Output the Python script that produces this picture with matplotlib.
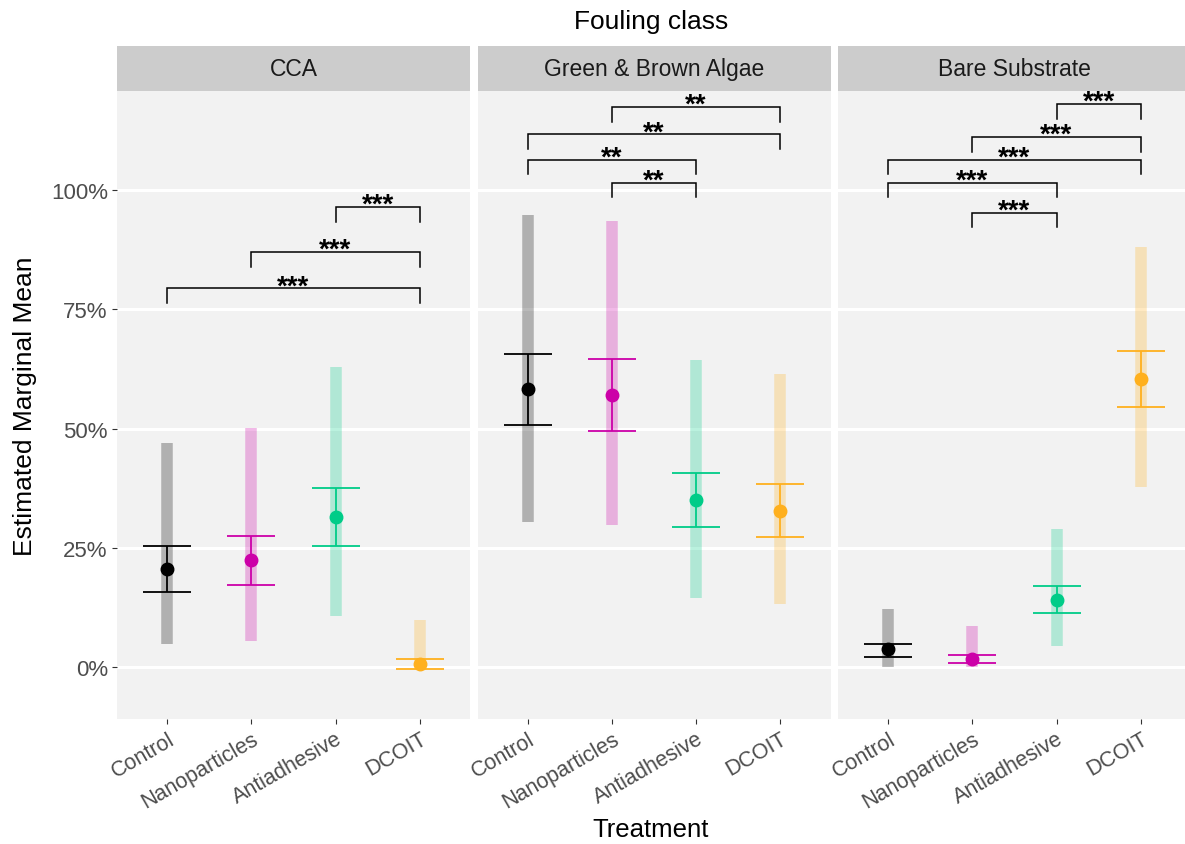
import numpy as np
import matplotlib
matplotlib.use('Agg')
import matplotlib.pyplot as plt
import matplotlib.transforms as mtransforms

plt.rcParams['font.family'] = ['Liberation Sans', 'DejaVu Sans']

# facets and treatments
fouling_classes = ['CCA', 'Green & Brown Algae', 'Bare Substrate']
treatments = ['Control', 'Nanoparticles', 'Antiadhesive', 'DCOIT']
colors = ['#000000', '#CC00A8', '#00CC88', '#FFB01E']

# estimated marginal means (%)
emmean_cca = [20.5, 22.4, 31.4, 0.7]
emmean_gba = [58.3, 57.1, 35.1, 32.8]
emmean_bare = [3.7, 1.7, 14.0, 60.3]

# error bars (mean +/- SE)
se_low_cca = [15.8, 17.3, 25.3, -0.4]
se_high_cca = [25.4, 27.4, 37.5, 1.7]
se_low_gba = [50.8, 49.6, 29.4, 27.3]
se_high_gba = [65.7, 64.5, 40.7, 38.3]
se_low_bare = [2.1, 0.9, 11.3, 54.5]
se_high_bare = [4.9, 2.5, 17.0, 66.2]

# confidence intervals (shaded bars)
ci_low_cca = [4.8, 5.5, 10.7, 0.0]
ci_high_cca = [47.0, 50.2, 63.0, 9.8]
ci_low_gba = [30.4, 29.7, 14.5, 13.2]
ci_high_gba = [94.9, 93.5, 64.4, 61.5]
ci_low_bare = [0.0, 0.0, 4.5, 37.8]
ci_high_bare = [12.2, 8.6, 28.9, 88.0]

# pairwise comparisons: (treatment a, treatment b), bracket height, label
pairs_cca = [(2, 3), (1, 3), (0, 3)]
heights_cca = [96.5, 87.0, 79.4]
labels_cca = ['***', '***', '***']
pairs_gba = [(1, 3), (0, 3), (0, 2), (1, 2)]
heights_gba = [117.5, 111.7, 106.4, 101.6]
labels_gba = ['**', '**', '**', '**']
pairs_bare = [(2, 3), (1, 3), (0, 3), (0, 2), (1, 2)]
heights_bare = [118.1, 111.2, 106.4, 101.6, 95.3]
labels_bare = ['***', '***', '***', '***', '***']

panels = [
    (emmean_cca, se_low_cca, se_high_cca, ci_low_cca, ci_high_cca, pairs_cca, heights_cca, labels_cca),
    (emmean_gba, se_low_gba, se_high_gba, ci_low_gba, ci_high_gba, pairs_gba, heights_gba, labels_gba),
    (emmean_bare, se_low_bare, se_high_bare, ci_low_bare, ci_high_bare, pairs_bare, heights_bare, labels_bare),
]

W, H = 1185, 845
fig = plt.figure(figsize=(W / 100, H / 100), dpi=100)

panel_left = [117, 477.5, 838]
panel_w = 353
panel_top, panel_bottom = 92, 720
strip_h = 45
tip = 3.1

x = np.arange(len(treatments))
for k, (mean, slo, shi, clo, chi, pairs, heights, labels) in enumerate(panels):
    l = panel_left[k]
    ax = fig.add_axes([l / W, 1 - panel_bottom / H, panel_w / W, (panel_bottom - panel_top) / H])
    ax.set_facecolor('#F2F2F2')
    for s in ax.spines.values():
        s.set_visible(False)

    mean = np.array(mean)
    for i in range(len(treatments)):
        ax.vlines(x[i], clo[i], chi[i], color=colors[i], alpha=0.27, lw=8.3,
                  capstyle='butt', zorder=2)
        ax.errorbar(x[i], mean[i], yerr=[[mean[i] - slo[i]], [shi[i] - mean[i]]],
                    fmt='o', color=colors[i], ms=9, elinewidth=1.3,
                    capsize=17, capthick=1.3, zorder=3)

    for (a, b), yb, lab in zip(pairs, heights, labels):
        ax.plot([a, a, b, b], [yb - tip, yb, yb, yb - tip], color='black', lw=1.1,
                zorder=4, solid_joinstyle='miter')
        ax.annotate(lab, xy=((a + b) / 2, yb), xytext=(0, -3.5), textcoords='offset points',
                    ha='center', va='baseline', fontsize=20, fontweight='bold',
                    color='black')

    ax.set_xlim(-0.6, 3.6)
    ax.set_ylim(-10.9, 120.8)
    ax.set_yticks([0, 25, 50, 75, 100])
    ax.yaxis.grid(True, color='white', lw=2.2)
    ax.set_axisbelow(True)
    ax.set_xticks(x)
    ax.set_xticklabels(treatments, rotation=30, ha='right', va='top',
                       rotation_mode='anchor', fontsize=15.5, color='#4D4D4D')
    shift = mtransforms.ScaledTranslation(6 / 100, 0, fig.dpi_scale_trans)
    for lab in ax.get_xticklabels():
        lab.set_transform(lab.get_transform() + shift)
    ax.tick_params(axis='both', length=3.6, width=0.8, color='#333333', pad=3)
    if k == 0:
        ax.set_yticklabels([f'{v}%' for v in [0, 25, 50, 75, 100]],
                           fontsize=16, color='#4D4D4D')
    else:
        ax.tick_params(axis='y', left=False, labelleft=False)

    # facet strip
    sax = fig.add_axes([l / W, 1 - panel_top / H, panel_w / W, strip_h / H])
    sax.set_facecolor('#CCCCCC')
    sax.set_xticks([])
    sax.set_yticks([])
    for s in sax.spines.values():
        s.set_visible(False)
    sax.text(0.5, 0.5, fouling_classes[k], ha='center', va='center',
             fontsize=16.5, color='#1A1A1A', transform=sax.transAxes)

fig.text(651 / W, 1 - 22 / H, 'Fouling class', ha='center', va='center', fontsize=19)
fig.text(651 / W, 1 - 830 / H, 'Treatment', ha='center', va='center', fontsize=18.5)
fig.text(25 / W, 1 - 406 / H, 'Estimated Marginal Mean', ha='center', va='center',
         rotation=90, fontsize=19)

fig.savefig('out.png', dpi=100)
